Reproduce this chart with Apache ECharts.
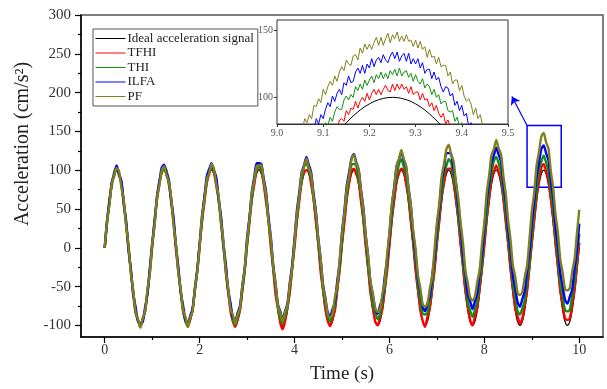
<!DOCTYPE html>
<html><head><meta charset="utf-8">
<script src="https://cdn.jsdelivr.net/npm/echarts@6/dist/echarts.min.js"></script>
<style>html,body{margin:0;padding:0;background:#fff}#c{width:607px;height:389px}</style>
</head><body><div id="c"></div>
<script>
const FONT = "'Liberation Serif','Times New Roman',serif";
const seriesNames = ['Ideal acceleration signal', 'TFHI', 'THI', 'ILFA', 'PF'];
const seriesColors = ['#000000', '#ff0000', '#109010', '#0000ff', '#80801a'];

// main signals, sampled every 0.05 s from t = 0 to 10 s
const mainStart = 0, mainStep = 0.05;
const idealMain = [
  0, 30.9, 58.8, 80.9, 95.1, 100, 95.1, 80.9, 58.8, 30.9, 0, -30.9, -58.8, -80.9, -95.1, -100, -95.1, -80.9, -58.8, -30.9,
  0, 30.9, 58.8, 80.9, 95.1, 100, 95.1, 80.9, 58.8, 30.9, 0, -30.9, -58.8, -80.9, -95.1, -100, -95.1, -80.9, -58.8, -30.9,
  0, 30.9, 58.8, 80.9, 95.1, 100, 95.1, 80.9, 58.8, 30.9, 0, -30.9, -58.8, -80.9, -95.1, -100, -95.1, -80.9, -58.8, -30.9,
  0, 30.9, 58.8, 80.9, 95.1, 100, 95.1, 80.9, 58.8, 30.9, 0, -30.9, -58.8, -80.9, -95.1, -100, -95.1, -80.9, -58.8, -30.9,
  0, 30.9, 58.8, 80.9, 95.1, 100, 95.1, 80.9, 58.8, 30.9, 0, -30.9, -58.8, -80.9, -95.1, -100, -95.1, -80.9, -58.8, -30.9,
  0, 30.9, 58.8, 80.9, 95.1, 100, 95.1, 80.9, 58.8, 30.9, 0, -30.9, -58.8, -80.9, -95.1, -100, -95.1, -80.9, -58.8, -30.9,
  0, 30.9, 58.8, 80.9, 95.1, 100, 95.1, 80.9, 58.8, 30.9, 0, -30.9, -58.8, -80.9, -95.1, -100, -95.1, -80.9, -58.8, -30.9,
  0, 30.9, 58.8, 80.9, 95.1, 100, 95.1, 80.9, 58.8, 30.9, 0, -30.9, -58.8, -80.9, -95.1, -100, -95.1, -80.9, -58.8, -30.9,
  0, 30.9, 58.8, 80.9, 95.1, 100, 95.1, 80.9, 58.8, 30.9, 0, -30.9, -58.8, -80.9, -95.1, -100, -95.1, -80.9, -58.8, -30.9,
  0, 30.9, 58.8, 80.9, 95.1, 100, 95.1, 80.9, 58.8, 30.9, 0, -30.9, -58.8, -80.9, -95.1, -100, -95.1, -80.9, -58.8, -30.9,
  0
];
const tfhiMain = [
  0, 33, 58, 84, 93, 103, 94, 83, 56, 32, -2, -29, -60, -84, -93, -102, -92, -82, -57, -33,
  2, 30, 62, 81, 99, 102, 94, 85, 59, 34, -2, -29, -56, -82, -93, -102, -92, -81, -55, -31,
  1, 35, 58, 84, 95, 104, 98, 80, 63, 32, 5, -31, -56, -82, -95, -102, -92, -81, -55, -30,
  4, 32, 63, 81, 100, 101, 99, 82, 59, 36, 1, -27, -60, -78, -97, -105, -95, -77, -58, -27,
  1, 35, 60, 87, 97, 100, 100, 82, 63, 33, 5, -31, -54, -79, -94, -101, -91, -81, -54, -30,
  5, 32, 63, 83, 100, 102, 95, 86, 60, 36, 2, -26, -58, -76, -95, -100, -90, -79, -55, -30,
  3, 37, 61, 86, 96, 102, 100, 83, 65, 34, 6, -29, -54, -80, -94, -102, -89, -78, -53, -29,
  6, 34, 66, 84, 101, 102, 102, 85, 62, 38, 4, -24, -56, -75, -93, -100, -89, -78, -52, -27,
  3, 38, 63, 88, 98, 106, 98, 88, 65, 34, 7, -27, -52, -78, -88, -98, -91, -74, -56, -24,
  7, 35, 67, 86, 103, 108, 99, 88, 63, 39, 5, -23, -55, -73, -91, -93, -91, -73, -54, -23,
  7
];
const thiMain = [
  0, 33, 63, 80, 98, 103, 94, 84, 59, 30, 3, -31, -56, -82, -93, -102, -92, -82, -57, -28,
  1, 36, 61, 86, 96, 104, 100, 82, 63, 32, 4, -30, -54, -79, -95, -100, -91, -80, -54, -29,
  5, 33, 65, 84, 101, 102, 98, 87, 61, 36, 2, -25, -56, -75, -93, -99, -89, -78, -54, -29,
  4, 38, 63, 89, 100, 107, 99, 88, 67, 35, 8, -26, -51, -77, -91, -97, -88, -77, -51, -26,
  9, 37, 68, 87, 105, 109, 101, 91, 66, 41, 6, -22, -53, -71, -88, -95, -85, -74, -49, -25,
  9, 43, 67, 92, 107, 108, 106, 89, 71, 40, 12, -23, -48, -73, -83, -92, -86, -69, -51, -20,
  14, 42, 73, 91, 108, 114, 105, 94, 69, 45, 11, -17, -49, -68, -85, -86, -84, -67, -48, -17,
  11, 46, 71, 96, 106, 114, 110, 92, 73, 42, 15, -19, -44, -70, -81, -89, -80, -69, -44, -20,
  16, 44, 76, 95, 112, 117, 109, 98, 72, 47, 13, -14, -45, -64, -82, -86, -78, -68, -43, -17,
  16, 50, 74, 100, 111, 119, 110, 99, 74, 50, 16, -12, -44, -63, -80, -82, -80, -62, -43, -12,
  18
];
const ilfaMain = [
  0, 36, 59, 85, 94, 106, 96, 86, 59, 35, -1, -27, -59, -76, -95, -97, -96, -77, -60, -27,
  6, 33, 66, 84, 103, 107, 97, 88, 62, 39, 3, -24, -57, -74, -93, -97, -88, -79, -52, -28,
  5, 41, 65, 92, 101, 109, 100, 91, 64, 41, 6, -20, -53, -71, -90, -94, -84, -75, -49, -26,
  13, 39, 72, 90, 109, 109, 108, 89, 72, 40, 14, -22, -46, -73, -82, -92, -82, -72, -45, -22,
  12, 48, 71, 97, 106, 117, 107, 97, 70, 47, 12, -14, -47, -65, -84, -88, -79, -70, -43, -19,
  20, 47, 80, 97, 115, 121, 110, 101, 75, 52, 16, -11, -44, -61, -79, -85, -75, -65, -38, -15,
  18, 54, 78, 105, 114, 123, 113, 104, 78, 55, 18, -8, -40, -57, -76, -82, -72, -63, -36, -12,
  26, 52, 85, 103, 122, 122, 121, 102, 85, 53, 27, -9, -33, -60, -69, -79, -69, -59, -32, -9,
  25, 61, 84, 110, 119, 129, 120, 111, 84, 60, 24, -2, -35, -52, -70, -76, -66, -56, -29, -6,
  32, 59, 92, 109, 127, 132, 122, 113, 87, 64, 28, 1, -32, -49, -67, -72, -63, -54, -27, -3,
  31
];
const pfMain = [
  0, 35, 56, 84, 93, 103, 99, 78, 62, 29, 4, -32, -55, -83, -92, -103, -91, -82, -54, -33,
  5, 29, 64, 80, 99, 105, 94, 85, 65, 30, 5, -32, -53, -80, -89, -102, -90, -82, -53, -30,
  2, 40, 61, 88, 96, 108, 102, 82, 67, 34, 10, -28, -51, -79, -86, -98, -86, -78, -49, -27,
  10, 36, 71, 86, 105, 106, 107, 86, 69, 35, 12, -24, -46, -75, -84, -95, -83, -74, -47, -26,
  8, 44, 66, 95, 104, 115, 103, 94, 66, 45, 11, -14, -49, -66, -86, -90, -84, -64, -49, -16,
  19, 44, 77, 93, 114, 120, 108, 101, 73, 50, 16, -10, -44, -59, -78, -83, -79, -60, -44, -9,
  20, 56, 77, 105, 114, 126, 115, 106, 77, 55, 23, -1, -35, -52, -73, -76, -72, -53, -37, -2,
  32, 57, 92, 108, 127, 133, 120, 112, 85, 64, 32, 6, -29, -45, -64, -68, -63, -44, -29, 5,
  33, 71, 93, 120, 127, 139, 128, 121, 93, 70, 36, 11, -22, -37, -58, -61, -57, -38, -23, 11,
  47, 71, 106, 123, 143, 148, 136, 128, 99, 77, 43, 19, -15, -32, -53, -55, -52, -31, -15, 18,
  49
];

// inset (zoom of 9.0 - 9.5 s)
const insetIdealStart = 9.14, insetIdealStep = 0.01;
const insetIdeal = [77.0, 80.9, 84.4, 87.6, 90.5, 93.0, 95.1, 96.9, 98.2, 99.2, 99.8, 100,
  99.8, 99.2, 98.2, 96.9, 95.1, 93.0, 90.5, 87.6, 84.4, 80.9, 77.0];
const insetStep = 0.005;
const insetTFHIStart = 9.11;
const insetTFHI = [
  68, 75, 73, 79, 76, 83, 84, 82, 90, 87,
  92, 91, 97, 92, 97, 100, 97, 103, 98, 103,
  106, 102, 106, 102, 106, 109, 105, 104, 110, 105,
  110, 106, 110, 106, 108, 103, 108, 102, 104, 104,
  98, 103, 98, 99, 93, 96, 90, 94, 88, 85,
  88, 80, 83, 78, 80, 72, 74];
const insetTHIStart = 9.09;
const insetTHI = [
  73, 70, 77, 81, 79, 85, 82, 89, 93, 91,
  91, 98, 101, 98, 102, 100, 108, 105, 110, 106,
  113, 109, 113, 116, 111, 117, 114, 119, 114, 118,
  114, 120, 117, 121, 116, 122, 116, 119, 120, 115,
  118, 112, 117, 112, 110, 114, 107, 110, 108, 102,
  106, 100, 102, 95, 97, 97, 90, 89, 90, 82,
  85, 78, 81, 74, 75];
const insetILFAStart = 9.07;
const insetILFA = [
  70, 77, 76, 84, 80, 87, 84, 91, 96, 93,
  101, 97, 103, 106, 102, 111, 109, 116, 111, 112,
  119, 122, 118, 124, 118, 125, 122, 129, 123, 128,
  130, 126, 132, 128, 126, 131, 134, 129, 134, 127,
  131, 133, 127, 133, 125, 129, 125, 129, 122, 126,
  118, 121, 121, 114, 119, 113, 115, 108, 104, 108,
  107, 101, 103, 94, 97, 90, 94, 86, 88, 78,
  81, 74, 77];
const insetPFStart = 9.04;
const insetPF = [
  70, 68, 77, 76, 84, 81, 87, 84, 94, 93,
  99, 96, 106, 102, 108, 112, 109, 116, 112, 119,
  123, 120, 128, 125, 124, 131, 132, 128, 137, 133,
  140, 136, 140, 136, 141, 145, 139, 145, 139, 144,
  148, 141, 147, 144, 149, 142, 146, 142, 147, 142,
  143, 138, 143, 137, 142, 136, 138, 130, 136, 130,
  131, 125, 130, 123, 124, 124, 116, 119, 110, 113,
  113, 105, 109, 101, 97, 99, 95, 87, 92, 84,
  87, 79, 79, 71, 72];

// ticks
const xTickLabels = [0, 2, 4, 6, 8, 10];
const xMinorTicks = [1, 3, 5, 7, 9];
const yTickLabels = [-100, -50, 0, 50, 100, 150, 200, 250, 300];
const yMinorTicks = [-75, -25, 25, 75, 125, 175, 225, 275];
const insetXTicks = [9.0, 9.1, 9.2, 9.3, 9.4, 9.5];
const insetYTicks = [100, 150];
// zoom box and arrow (data coordinates of main plot)
const zoomBox = [[8.9, 157.5], [9.62, 78]];
const arrowFrom = [8.9, 157.5], arrowTo = [8.58, 195];

const pairs = (start, step, vals) => vals.map((v, i) => [+(start + i * step).toFixed(3), v]);
const mainData = [idealMain, tfhiMain, thiMain, ilfaMain, pfMain];
const insetData = [
  pairs(insetIdealStart, insetIdealStep, insetIdeal),
  pairs(insetTFHIStart, insetStep, insetTFHI),
  pairs(insetTHIStart, insetStep, insetTHI),
  pairs(insetILFAStart, insetStep, insetILFA),
  pairs(insetPFStart, insetStep, insetPF)
];

const series = [];
mainData.forEach((vals, i) => {
  const s = {
    type: 'line', name: seriesNames[i], xAxisIndex: 0, yAxisIndex: 0,
    data: pairs(mainStart, mainStep, vals), symbol: 'none', showSymbol: false,
    smooth: 0.25,
    color: seriesColors[i], lineStyle: { color: seriesColors[i], width: i === 0 ? 1.2 : 2.4 },
    z: 2 + i, animation: false
  };
  if (i === 4) {
    s.markArea = {
      silent: true,
      itemStyle: { color: 'rgba(0,0,0,0)', borderColor: '#0000ff', borderWidth: 1.5 },
      label: { show: false },
      data: [[{ coord: zoomBox[0] }, { coord: zoomBox[1] }]]
    };
    s.markLine = {
      silent: true, symbol: ['none', 'arrow'], symbolSize: 8,
      lineStyle: { color: '#0000ff', width: 1.2, type: 'solid' },
      label: { show: false },
      data: [[{ coord: arrowFrom }, { coord: arrowTo }]]
    };
  }
  series.push(s);
});
insetData.forEach((d, i) => {
  series.push({
    type: 'line', name: seriesNames[i], xAxisIndex: 2, yAxisIndex: 2, data: d,
    symbol: 'none', showSymbol: false, clip: true, color: seriesColors[i],
    lineStyle: { color: seriesColors[i], width: 1 }, z: 10 + i, animation: false
  });
});

const chart = echarts.init(document.getElementById('c'), null, { renderer: 'canvas' });
chart.setOption({
  animation: false,
  backgroundColor: '#fff',
  grid: [
    { left: 81, right: 4, top: 15, bottom: 52, show: true, borderColor: '#555', borderWidth: 1.5, backgroundColor: 'transparent' },
    { left: 277, top: 20, width: 231, height: 104, show: true, borderColor: '#333', borderWidth: 1, backgroundColor: '#fff', z: 5 }
  ],
  xAxis: [
    {
      type: 'value', gridIndex: 0, min: -0.5, max: 10.5,
      axisLine: { onZero: false, lineStyle: { color: '#000', width: 1.5 } },
      axisTick: { customValues: xTickLabels, length: 6, lineStyle: { color: '#000', width: 1.2 } },
      axisLabel: { customValues: xTickLabels, fontFamily: FONT, fontSize: 14, color: '#333', margin: 6 },
      splitLine: { show: false },
      name: 'Time (s)', nameLocation: 'middle', nameGap: 28,
      nameTextStyle: { fontFamily: FONT, fontSize: 19, color: '#222' }
    },
    {
      type: 'value', gridIndex: 0, min: -0.5, max: 10.5, position: 'bottom',
      axisLine: { show: false, onZero: false },
      axisTick: { show: true, customValues: xMinorTicks, length: 3, lineStyle: { color: '#000', width: 1.2 } },
      axisLabel: { show: false }, splitLine: { show: false }
    },
    {
      type: 'value', gridIndex: 1, min: 9.0, max: 9.5,
      axisLine: { onZero: false, lineStyle: { color: '#333', width: 1 } },
      axisTick: { customValues: insetXTicks, length: 3, lineStyle: { color: '#333' } },
      axisLabel: { customValues: insetXTicks, formatter: v => v.toFixed(1), fontFamily: FONT, fontSize: 10, color: '#555', margin: 4 },
      splitLine: { show: false }
    }
  ],
  yAxis: [
    {
      type: 'value', gridIndex: 0, min: -115, max: 300,
      axisLine: { onZero: false, lineStyle: { color: '#000', width: 1.5 } },
      axisTick: { customValues: yTickLabels, length: 6, lineStyle: { color: '#000', width: 1.2 } },
      axisLabel: { customValues: yTickLabels, fontFamily: FONT, fontSize: 15, color: '#333', margin: 10 },
      splitLine: { show: false }
    },
    {
      type: 'value', gridIndex: 0, min: -115, max: 300, position: 'left',
      axisLine: { show: false, onZero: false },
      axisTick: { show: true, customValues: yMinorTicks, length: 3, lineStyle: { color: '#000', width: 1.2 } },
      axisLabel: { show: false }, splitLine: { show: false }
    },
    {
      type: 'value', gridIndex: 1, min: 80, max: 158,
      axisLine: { onZero: false, lineStyle: { color: '#333', width: 1 } },
      axisTick: { customValues: insetYTicks, length: 3, lineStyle: { color: '#333' } },
      axisLabel: { customValues: insetYTicks, fontFamily: FONT, fontSize: 10, color: '#555', margin: 4 },
      splitLine: { show: false }
    }
  ],
  legend: {
    data: seriesNames, left: 93, top: 29, orient: 'vertical',
    itemWidth: 30, itemHeight: 14, itemGap: 1.5, padding: [3, 4, 3, 2],
    borderColor: '#555', borderWidth: 1, backgroundColor: '#fff',
    lineStyle: { width: 1 },
    itemStyle: { opacity: 0 },
    textStyle: { fontFamily: FONT, fontSize: 13, color: '#222', padding: [0, 0, 0, -3] }
  },
  graphic: [{
    type: 'text', x: 23, y: 144, rotation: Math.PI / 2, silent: true,
    style: { text: 'Acceleration (cm/s²)', font: "20px 'Liberation Serif'", fill: '#222', textAlign: 'center', textVerticalAlign: 'middle' }
  }],
  series: series
});
</script></body></html>
